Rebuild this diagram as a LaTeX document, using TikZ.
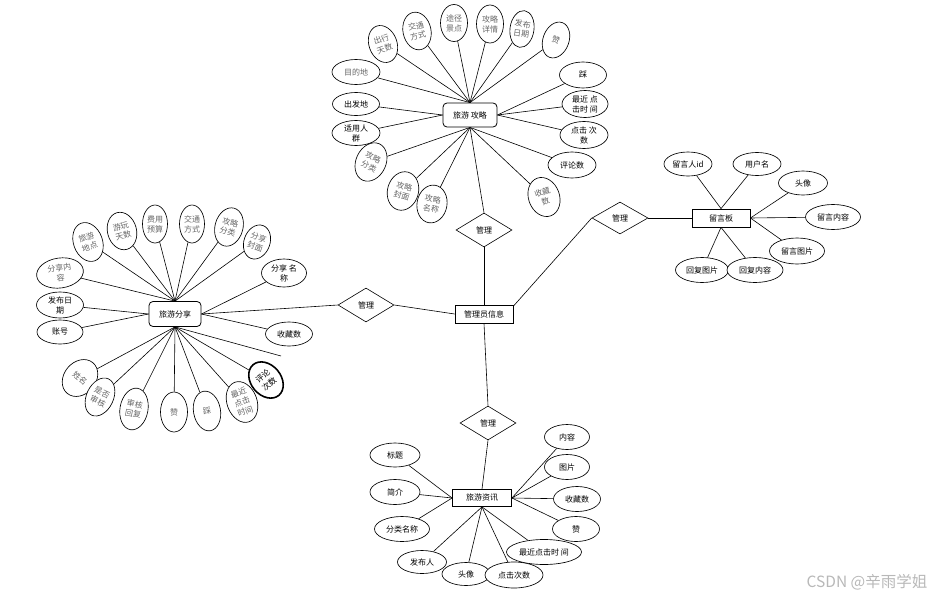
\documentclass[tikz,border=0pt]{standalone}
\usepackage{fontspec}
\setmainfont{Noto Sans CJK SC}
\usetikzlibrary{shapes.geometric,backgrounds}
\begin{document}
\begin{tikzpicture}[x=1pt,y=-1pt,
 base/.style={font=\fontsize{8}{10}\selectfont, align=center, inner sep=0pt, fill=white},
 attr/.style={base, ellipse, draw, line width=0.65pt},
 ag/.style={attr, text=black!60},
 ent/.style={base, rectangle, draw, line width=0.8pt, minimum width=58, minimum height=18},
 entr/.style={ent, rounded corners=4pt},
 rel/.style={base, diamond, draw, line width=0.6pt, minimum width=56, minimum height=34},
 lnk/.style={line width=0.6pt},
]
\useasboundingbox (0,0) rectangle (939,597);

% ---------- top cluster: 旅游攻略 ----------
\node[entr, minimum width=54, minimum height=24] (T) at (470,115) {旅游 攻略};
\node[ag, minimum width=28, minimum height=38, rotate=20] (t1) at (383,44) {出行\\天数};
\node[ag, minimum width=28, minimum height=38, rotate=12] (t2) at (417,31) {交通\\方式};
\node[ag, minimum width=27, minimum height=37] (t3) at (454,23) {途径\\景点};
\node[ag, minimum width=27, minimum height=38] (t4) at (490,24) {攻略\\详情};
\node[ag, minimum width=24, minimum height=37, rotate=-8] (t5) at (522,29) {发布\\日期};
\node[ag, minimum width=26, minimum height=37, rotate=-20] (t6) at (556,40) {赞};
\node[ag, minimum width=48, minimum height=25] (t7) at (356,72) {目的地};
\node[attr, minimum width=47, minimum height=23] (t8) at (356,104) {出发地};
\node[attr, minimum width=47, minimum height=26] (t9) at (583,75) {踩};
\node[attr, minimum width=46, minimum height=27] (t10) at (585,104) {最近 点\\击时 间};
\node[attr, minimum width=48, minimum height=25] (t11) at (356,133) {适用人\\群};
\node[ag, minimum width=30, minimum height=40, rotate=-25] (t12) at (371,162) {攻略\\分类};
\node[ag, minimum width=31, minimum height=39, rotate=-15] (t13) at (403,191) {攻略\\封面};
\node[ag, minimum width=30, minimum height=38, rotate=-10] (t14) at (432,204) {攻略\\名称};
\node[attr, minimum width=48, minimum height=27] (t15) at (584,135) {点击 次\\数};
\node[attr, minimum width=48, minimum height=26] (t16) at (572,165) {评论数};
\node[ag, minimum width=31, minimum height=40, rotate=20] (t17) at (544,197) {收藏\\数};

% ---------- centre ----------
\node[ent] (M) at (484,314) {管理员信息};
\node[rel] (D1) at (484,230) {管理};
\node[rel] (D2) at (366,305) {管理};
\node[rel, minimum height=32] (D3) at (620,218) {管理};
\node[rel] (D4) at (488,423) {管理};

% ---------- left cluster: 旅游分享 ----------
\node[entr, minimum width=52, minimum height=25] (S) at (175,314) {旅游分享};
\node[ag, minimum width=29, minimum height=40, rotate=20] (s1) at (88,242) {旅游\\地点};
\node[ag, minimum width=29, minimum height=38, rotate=15] (s2) at (122,231) {游玩\\天数};
\node[ag, minimum width=25, minimum height=38] (s3) at (155,224) {费用\\预算};
\node[ag, minimum width=25, minimum height=38] (s4) at (192,224) {交通\\方式};
\node[ag, minimum width=28, minimum height=39, rotate=-15] (s5) at (229,227) {攻略\\分类};
\node[ag, minimum width=26, minimum height=35, rotate=-20] (s6) at (257,242) {分享\\封面};
\node[ag, minimum width=47, minimum height=30, rotate=8] (s7) at (60,273) {分享内\\容};
\node[attr, minimum width=47, minimum height=26] (s8) at (60,305) {发布日\\期};
\node[attr, minimum width=45, minimum height=28] (s9) at (284,273) {分享 名\\称};
\node[attr, minimum width=46, minimum height=24] (s10) at (60,332) {账号};
\node[attr, minimum width=47, minimum height=24] (s11) at (289,334) {收藏数};
\node[ag, minimum width=32, minimum height=40, rotate=-40] (s12) at (80,378) {姓名};
\node[ag, minimum width=27, minimum height=40, rotate=-25] (s13) at (100,397) {是否\\审核};
\node[ag, minimum width=28, minimum height=42, rotate=-10] (s14) at (134,409) {审核\\回复};
\node[ag, minimum width=27, minimum height=40] (s15) at (174,412) {赞};
\node[ag, minimum width=27, minimum height=40, rotate=10] (s16) at (207,411) {踩};
\node[ag, minimum width=30, minimum height=42, rotate=20] (s17) at (242,402) {最近\\点击\\时间};
\node[attr, line width=1.6pt, minimum width=30, minimum height=40, rotate=40] (s18) at (266,380) {评论\\次数};
\coordinate (sx) at (281,356);

% ---------- right cluster: 留言板 ----------
\node[ent] (L) at (721,218) {留言板};
\node[attr, minimum width=48, minimum height=24] (l1) at (688,164) {留言人id};
\node[attr, minimum width=48, minimum height=23] (l2) at (757,164) {用户名};
\node[attr, minimum width=49, minimum height=24] (l3) at (803,183) {头像};
\node[attr, minimum width=55, minimum height=25] (l4) at (833,217) {留言内容};
\node[attr, minimum width=55, minimum height=26] (l5) at (797,251) {留言图片};
\node[attr, minimum width=53, minimum height=25] (l6) at (702,270) {回复图片};
\node[attr, minimum width=56, minimum height=25] (l7) at (755,270) {回复内容};

% ---------- bottom cluster: 旅游资讯 ----------
\node[ent, minimum width=59, minimum height=17] (Z) at (482,498) {旅游资讯};
\node[attr, minimum width=50, minimum height=24] (z1) at (395,455) {标题};
\node[attr, minimum width=50, minimum height=25] (z2) at (395,492) {简介};
\node[attr, minimum width=55, minimum height=25] (z3) at (402,529) {分类名称};
\node[attr, minimum width=49, minimum height=23] (z4) at (422,562) {发布人};
\node[attr, minimum width=48, minimum height=23] (z5) at (466,574) {头像};
\node[attr, minimum width=58, minimum height=26] (z6) at (514,575) {点击次数};
\node[attr, minimum width=75, minimum height=25] (z7) at (544,552) {最近点击时 间};
\node[attr, minimum width=47, minimum height=25] (z8) at (576,529) {赞};
\node[attr, minimum width=47, minimum height=25] (z9) at (577,499) {收藏数};
\node[attr, minimum width=45, minimum height=25] (z10) at (567,467) {图片};
\node[attr, minimum width=45, minimum height=25] (z11) at (567,437) {内容};

\node[font=\fontsize{15.5}{16}\selectfont, text=black!28, inner sep=0pt] (wm) at (867,582) {CSDN @辛雨学姐};

% ---------- connectors ----------
\begin{scope}[on background layer]
 \foreach \n in {t1,t2,t3,t4,t5,t6,t7} \draw[lnk] (T.north) -- (\n);
 \foreach \n in {t8,t11} \draw[lnk] (T.west) -- (\n);
 \foreach \n in {t9,t10,t15} \draw[lnk] (T.east) -- (\n);
 \foreach \n in {t12,t13,t14,t16,t17} \draw[lnk] (T.south) -- (\n);
 \draw[lnk] (T.south) -- (D1.north);
 \draw[lnk] (D1.south) -- (M.north);
 \draw[lnk] (D2.east) -- (M.west);
 \draw[lnk] (M.15) -- (D3.west);
 \draw[lnk] (D3.east) -- (L.west);
 \draw[lnk] (M.south) -- (D4.north);
 \draw[lnk] (D4.south) -- (Z.north);
 \draw[lnk] (S.east) -- (D2.west);
 \foreach \n in {s1,s2,s3,s4,s5,s6,s7} \draw[lnk] (S.north) -- (\n);
 \foreach \n in {s8,s10} \draw[lnk] (S.west) -- (\n);
 \foreach \n in {s9,s11} \draw[lnk] (S.east) -- (\n);
 \foreach \n in {s12,s13,s14,s15,s16,s17,s18} \draw[lnk] (S.south) -- (\n);
 \draw[lnk] (S.south) -- (sx);
 \foreach \n in {l1,l2} \draw[lnk] (L.north) -- (\n);
 \foreach \n in {l3,l4,l5} \draw[lnk] (L.east) -- (\n);
 \foreach \n in {l6,l7} \draw[lnk] (L.south) -- (\n);
 \foreach \n in {z1,z2,z3} \draw[lnk] (Z.west) -- (\n);
 \foreach \n in {z8,z9,z10,z11} \draw[lnk] (Z.east) -- (\n);
 \foreach \n in {z4,z5,z6,z7} \draw[lnk] (Z.south) -- (\n);
\end{scope}
\end{tikzpicture}
\end{document}
